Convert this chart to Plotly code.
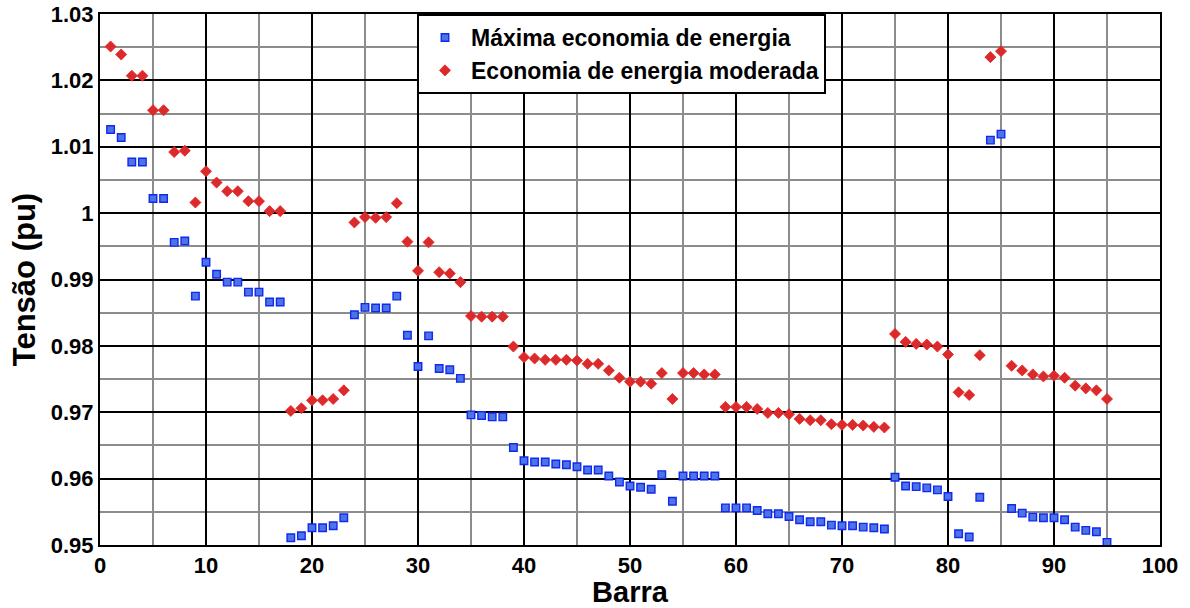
import plotly.graph_objects as go

barras = list(range(1, 96))

maxima = [
    1.0126, 1.0114, 1.0077, 1.0077, 1.0022, 1.0022, 0.9956, 0.9958, 0.9875, 0.9926,
    0.9908, 0.9896, 0.9896, 0.9881, 0.9881, 0.9866, 0.9866, 0.9511, 0.9514, 0.9526,
    0.9526, 0.9529, 0.9541, 0.9847, 0.9858, 0.9857, 0.9857, 0.9875, 0.9816, 0.9769,
    0.9815, 0.9766, 0.9764, 0.9751, 0.9696, 0.9695, 0.9693, 0.9693, 0.9647, 0.9627,
    0.9625, 0.9625, 0.9622, 0.9621, 0.9618, 0.9613, 0.9613, 0.9604, 0.9595, 0.9589,
    0.9587, 0.9584, 0.9606, 0.9566, 0.9604, 0.9604, 0.9604, 0.9604, 0.9556, 0.9556,
    0.9556, 0.9552, 0.9547, 0.9547, 0.9543, 0.9538, 0.9535, 0.9535, 0.9530, 0.9529,
    0.9529, 0.9527, 0.9526, 0.9524, 0.9602, 0.9589, 0.9588, 0.9586, 0.9583, 0.9573,
    0.9517, 0.9512, 0.9572, 1.0110, 1.0119, 0.9555, 0.9548, 0.9542, 0.9541, 0.9541,
    0.9538, 0.9527, 0.9522, 0.9520, 0.9504,
]

moderada = [
    1.0251, 1.0239, 1.0207, 1.0207, 1.0155, 1.0155, 1.0092, 1.0094, 1.0016, 1.0063,
    1.0046, 1.0033, 1.0033, 1.0018, 1.0018, 1.0003, 1.0003, 0.9702, 0.9706, 0.9718,
    0.9718, 0.9720, 0.9733, 0.9986, 0.9994, 0.9993, 0.9994, 1.0015, 0.9957, 0.9913,
    0.9956, 0.9911, 0.9909, 0.9896, 0.9845, 0.9844, 0.9844, 0.9844, 0.9799, 0.9783,
    0.9781, 0.9779, 0.9779, 0.9779, 0.9778, 0.9773, 0.9773, 0.9763, 0.9752, 0.9746,
    0.9746, 0.9743, 0.9759, 0.9720, 0.9759, 0.9759, 0.9757, 0.9757, 0.9708, 0.9708,
    0.9708, 0.9705, 0.9699, 0.9699, 0.9697, 0.9690, 0.9688, 0.9688, 0.9682, 0.9681,
    0.9681, 0.9680, 0.9678, 0.9677, 0.9818, 0.9806, 0.9803, 0.9802, 0.9799, 0.9787,
    0.9730, 0.9726, 0.9786, 1.0235, 1.0244, 0.9770, 0.9763, 0.9757, 0.9754, 0.9755,
    0.9752, 0.9740, 0.9736, 0.9733, 0.9720,
]

nome_max = "Máxima economia de energia"
nome_mod = "Economia de energia moderada"

FONT = "Liberation Sans, Arial, sans-serif"

fig = go.Figure()
fig.add_trace(go.Scatter(
    x=barras, y=maxima, mode="markers", name=nome_max,
    marker=dict(symbol="square", size=7.5, color="#4d74e4",
                line=dict(color="#1028f0", width=1.4)),
    cliponaxis=False,
))
fig.add_trace(go.Scatter(
    x=barras, y=moderada, mode="markers", name=nome_mod,
    marker=dict(symbol="diamond", size=8.5, color="#d92b2b",
                line=dict(color="#f02020", width=0.8)),
    cliponaxis=False,
))

axis_common = dict(
    showline=True, linecolor="black", linewidth=2, mirror=True,
    showgrid=True, gridcolor="black", gridwidth=1.6,
    zeroline=False, automargin=False,
    tickfont=dict(family=FONT, size=22, color="black", weight="bold"),
    ticks="",
)

fig.update_xaxes(
    range=[0, 100], dtick=10, tick0=0,
    minor=dict(dtick=5, showgrid=True, gridcolor="#8c8c8c", gridwidth=1.6),
    title=dict(text="Barra", font=dict(family=FONT, size=29, color="black", weight="bold"),
               standoff=8),
    **axis_common,
)
fig.update_yaxes(
    range=[0.95, 1.03], dtick=0.01, tick0=0.95,
    minor=dict(dtick=0.005, showgrid=True, gridcolor="#8c8c8c", gridwidth=1.6),
    title=dict(text="Tensão (pu)", font=dict(family=FONT, size=31, color="black", weight="bold"),
               standoff=6),
    **axis_common,
)

fig.update_layout(
    width=1190, height=608,
    margin=dict(l=100, r=30, t=14, b=63),
    plot_bgcolor="white", paper_bgcolor="white",
    showlegend=True,
    legend=dict(
        x=(417 - 100) / 1060, y=1.0, xanchor="left", yanchor="top",
        bgcolor="white", bordercolor="black", borderwidth=2,
        font=dict(family=FONT, size=23, color="black", weight="bold"),
        itemwidth=42,
    ),
)

fig.write_html("out.html")
